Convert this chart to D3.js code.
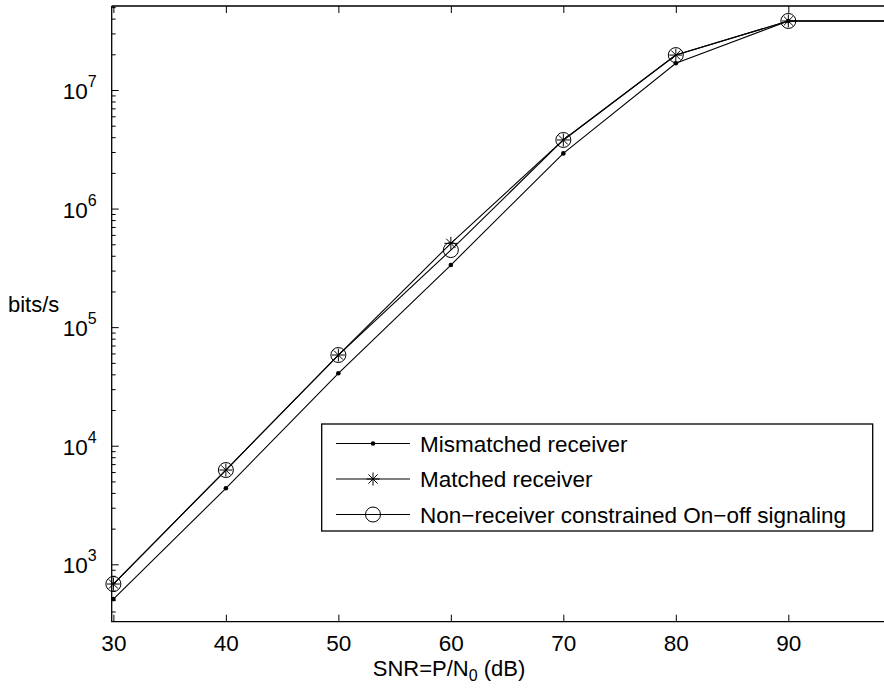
<!DOCTYPE html>
<html>
<head>
<meta charset="utf-8">
<script src="https://cdn.jsdelivr.net/npm/d3@7"></script>
<style>
  body { margin: 0; background: #fff; }
  svg { display: block; }
  text { font-family: "Liberation Sans", Arial, Helvetica, sans-serif; fill: #000; }
</style>
</head>
<body>
<svg id="chart" width="884" height="698"></svg>
<script>
// SNR (dB) grid and achievable rates (bits/s) for the three schemes
const snr        = [30, 40, 50, 60, 70, 80, 90, 100];
const mismatched = [509, 4375, 40800, 334000, 2.92e6, 1.68e7, 3.82e7, 3.82e7];
const matched    = [682, 6237, 58200, 509000, 3.79e6, 1.97e7, 3.82e7, 3.82e7];
const onOff      = [682, 6237, 58200, 447000, 3.79e6, 1.97e7, 3.82e7, 3.82e7];

const xTicks    = [30, 40, 50, 60, 70, 80, 90];
const yDecades  = [3, 4, 5, 6, 7];
const seriesNames = ["Mismatched receiver", "Matched receiver", "Non\u2212receiver constrained On\u2212off signaling"];
const markerKinds = ["dot", "star", "circle"];

const svg = d3.select("#chart");
const plot = { left: 111.7, top: 6, right: 900.8, bottom: 621.7 };

const x = d3.scaleLinear().domain([29.85, 100]).range([plot.left, plot.right]);
const y = d3.scaleLog().domain([Math.pow(10, 2.516), Math.pow(10, 7.7084)]).range([plot.bottom, plot.top]);

const axisColor = "#000";

// minor ticks 2..9 x 10^k inside the y range
const [yLo, yHi] = y.domain();
const yMinor = [];
for (let k = 2; k <= 7; k++) {
  for (let m = 2; m <= 9; m++) {
    const v = m * Math.pow(10, k);
    if (v >= yLo && v <= yHi) yMinor.push(v);
  }
}

const gAxes = svg.append("g");

// frame
gAxes.append("path")
  .attr("d", `M${plot.left},${plot.top}H${plot.right}M${plot.left},${plot.top}V${plot.bottom}H${plot.right}M${plot.right},${plot.top}V${plot.bottom}`)
  .attr("fill", "none").attr("stroke", axisColor).attr("stroke-width", 1.3);

// bottom axis with inward ticks
const xAxis = d3.axisBottom(x).tickValues(xTicks).tickSizeInner(-7).tickSizeOuter(0).tickPadding(14).tickFormat(d3.format("d"));
const gx = gAxes.append("g").attr("transform", `translate(0,${plot.bottom})`).call(xAxis);
gx.select(".domain").remove();
gx.selectAll(".tick line").attr("stroke", axisColor).attr("stroke-width", 1);
gx.selectAll(".tick text").attr("font-size", 22.5).attr("y", 29).attr("dy", null);

// top axis ticks (no labels)
const gxt = gAxes.append("g").attr("transform", `translate(0,${plot.top})`)
  .call(d3.axisTop(x).tickValues(xTicks).tickSizeInner(-7).tickSizeOuter(0).tickFormat(""));
gxt.select(".domain").remove();
gxt.selectAll(".tick line").attr("stroke", axisColor);

// left axis: major decades
const gy = gAxes.append("g").attr("transform", `translate(${plot.left},0)`)
  .call(d3.axisLeft(y).tickValues(yDecades.map(e => Math.pow(10, e))).tickSizeInner(-7).tickSizeOuter(0).tickFormat(""));
gy.select(".domain").remove();
gy.selectAll(".tick line").attr("stroke", axisColor);

// left axis: minor ticks
const gym = gAxes.append("g").attr("transform", `translate(${plot.left},0)`)
  .call(d3.axisLeft(y).tickValues(yMinor).tickSizeInner(-4).tickSizeOuter(0).tickFormat(""));
gym.select(".domain").remove();
gym.selectAll(".tick line").attr("stroke", axisColor);

// decade labels 10^k
const yl = gAxes.append("g");
yDecades.forEach(e => {
  const t = yl.append("text")
    .attr("x", plot.left - 15)
    .attr("y", y(Math.pow(10, e)) + 9)
    .attr("text-anchor", "end")
    .attr("font-size", 22.5);
  t.append("tspan").text("10");
  t.append("tspan").attr("font-size", 16).attr("dy", -12).text(String(e));
});

// axis titles
svg.append("text").attr("x", 8).attr("y", 312).attr("font-size", 22).text("bits/s");
const xt = svg.append("text").attr("x", 449).attr("y", 676).attr("text-anchor", "middle").attr("font-size", 22);
xt.append("tspan").text("SNR=P/N");
xt.append("tspan").attr("font-size", 16).attr("dy", 5).text("0");
xt.append("tspan").attr("dy", -5).text(" (dB)");

// markers
function drawMarker(g, kind, cx, cy) {
  if (kind === "dot") {
    g.append("circle").attr("cx", cx).attr("cy", cy).attr("r", 2.3).attr("fill", "#000");
  } else if (kind === "circle") {
    g.append("circle").attr("cx", cx).attr("cy", cy).attr("r", 7.5)
      .attr("fill", "none").attr("stroke", "#000").attr("stroke-width", 1);
  } else if (kind === "star") {
    const r = 6.5, d = r * 0.7071;
    g.append("path")
      .attr("d", `M${cx - r},${cy}H${cx + r}M${cx},${cy - r}V${cy + r}M${cx - d},${cy - d}L${cx + d},${cy + d}M${cx - d},${cy + d}L${cx + d},${cy - d}`)
      .attr("stroke", "#000").attr("stroke-width", 1).attr("fill", "none");
  }
}

svg.append("clipPath").attr("id", "plotclip")
  .append("rect").attr("x", plot.left - 10).attr("y", plot.top - 10)
  .attr("width", plot.right - plot.left + 20).attr("height", plot.bottom - plot.top + 20);

const line = d3.line().x(d => x(d[0])).y(d => y(d[1]));
const seriesValues = [mismatched, matched, onOff];
const gData = svg.append("g").attr("clip-path", "url(#plotclip)");
seriesValues.forEach((vals, i) => {
  const pts = snr.map((s, j) => [s, vals[j]]);
  gData.append("path").datum(pts).attr("d", line)
    .attr("fill", "none").attr("stroke", "#000").attr("stroke-width", 1.1);
  const gm = gData.append("g");
  pts.forEach(p => drawMarker(gm, markerKinds[i], x(p[0]), y(p[1])));
});

// legend
const lg = svg.append("g");
const box = { x: 321.7, y: 424, w: 551, h: 107 };
lg.append("rect").attr("x", box.x).attr("y", box.y).attr("width", box.w).attr("height", box.h)
  .attr("fill", "#fff").attr("stroke", "#000").attr("stroke-width", 1.3);
seriesNames.forEach((name, i) => {
  const cy = 443.5 + i * 35.5;
  lg.append("line").attr("x1", 336).attr("x2", 410).attr("y1", cy).attr("y2", cy)
    .attr("stroke", "#000").attr("stroke-width", 1.1);
  drawMarker(lg, markerKinds[i], 373, cy);
  lg.append("text").attr("x", 420).attr("y", cy + 8).attr("font-size", 22.5).text(name);
});
</script>
</body>
</html>
